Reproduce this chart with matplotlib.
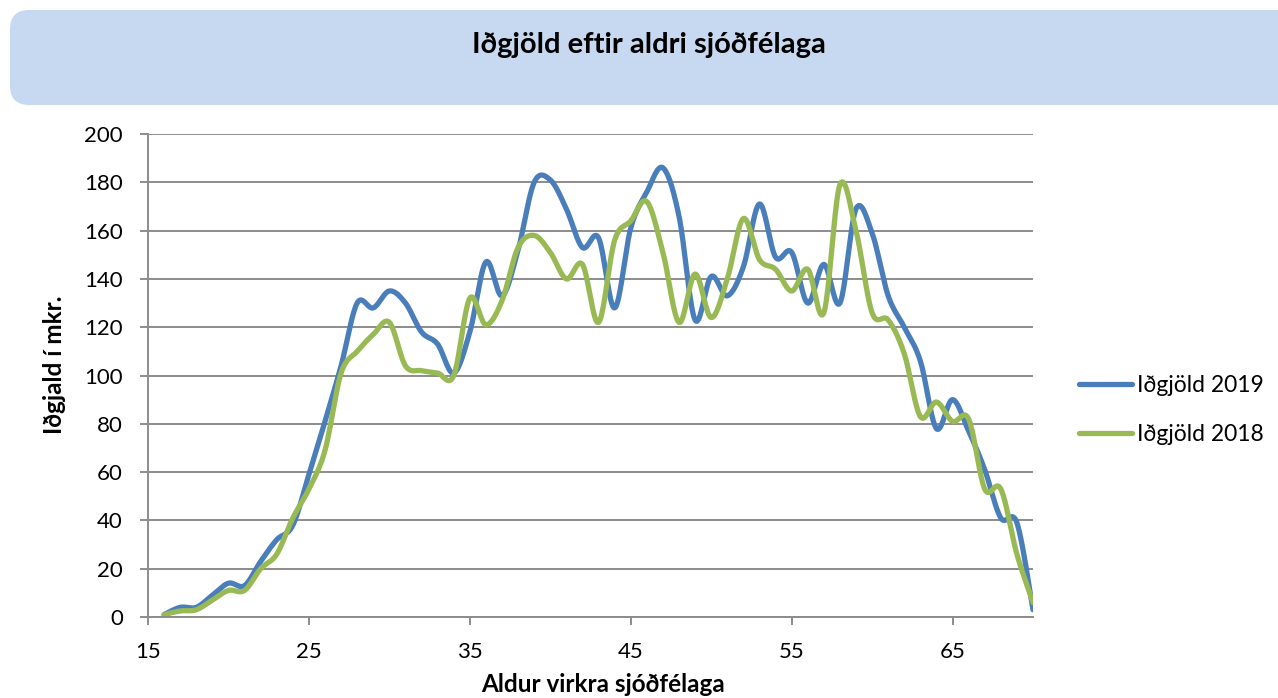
import numpy as np
import matplotlib
matplotlib.use("Agg")
import matplotlib.pyplot as plt
from matplotlib.patches import FancyBboxPatch

ages = list(range(16, 71))
idgjold_2019 = [1, 4, 4, 9, 14, 13, 23, 32, 38, 59, 81, 104, 130, 128, 135, 130, 118, 113, 101,
                118, 147, 133, 152, 180, 181, 169, 153, 157, 128, 161, 176, 186, 166, 123, 141,
                133, 145, 171, 149, 151, 130, 146, 130, 169, 159, 133, 120, 106, 78, 90, 77,
                61, 41, 39, 3]
idgjold_2018 = [1, 2.5, 3, 7, 11, 11, 20, 26, 41, 53, 69, 101, 110, 117, 122, 104, 102, 101, 100,
                132, 121, 131, 153, 158, 151, 140, 146, 122, 156, 164, 172, 151, 122, 142, 124,
                140, 165, 148, 144, 135, 144, 126, 179, 160, 126, 123, 109, 83, 89, 81, 82,
                53, 53, 26, 6]
series_names = ["Iðgjöld 2019", "Iðgjöld 2018"]
title = "Iðgjöld eftir aldri sjóðfélaga"
xlabel = "Aldur virkra sjóðfélaga"
ylabel = "Iðgjald í mkr."
xticks = [15, 25, 35, 45, 55, 65]
yticks = list(range(0, 201, 20))


def smooth(x, y, n=20):
    # Catmull-Rom spline through the points (Excel-style smoothed line)
    x = np.asarray(x, float)
    y = np.asarray(y, float)
    P = np.column_stack([x, y])
    P = np.vstack([P[0], P, P[-1]])
    out = []
    t = np.linspace(0, 1, n, endpoint=False)[:, None]
    for i in range(1, len(P) - 2):
        p0, p1, p2, p3 = P[i - 1], P[i], P[i + 1], P[i + 2]
        seg = 0.5 * ((2 * p1) + (-p0 + p2) * t + (2 * p0 - 5 * p1 + 4 * p2 - p3) * t ** 2
                     + (-p0 + 3 * p1 - 3 * p2 + p3) * t ** 3)
        out.append(seg)
    out.append(P[-2][None, :])
    out = np.vstack(out)
    return out[:, 0], out[:, 1]


font = "Lato"
W, H = 1278, 698
fig = plt.figure(figsize=(W / 100, H / 100), dpi=100)

# title box
box = FancyBboxPatch((10 / W, 1 - 105 / H), 1300 / W, 95 / H,
                     boxstyle="round,pad=0,rounding_size=0.015",
                     transform=fig.transFigure, facecolor="#C6D9F0", edgecolor="none",
                     mutation_aspect=W / H)
fig.patches.append(box)
fig.text(649 / W, 1 - 45 / H, title, ha="center", va="center",
         fontsize=21, fontweight="bold", family=font)

ax = fig.add_axes([148 / W, 1 - 617 / H, (1033 - 148) / W, (617 - 134) / H])
colors = ["#4A7EBB", "#98B954"]
for ys, name, c in zip([idgjold_2019, idgjold_2018], series_names, colors):
    sx, sy = smooth(ages, ys)
    ax.plot(sx, sy, color=c, lw=3.8, label=name, solid_capstyle="round")

ax.set_xlim(15, 70)
ax.set_ylim(0, 200)
ax.set_xticks(xticks)
ax.set_yticks(yticks)
ax.grid(axis="y", color="#8C8C8C", lw=1.4)
ax.set_axisbelow(True)
for s in ["top", "right"]:
    ax.spines[s].set_visible(False)
for s in ["left", "bottom"]:
    ax.spines[s].set_color("#8C8C8C")
    ax.spines[s].set_linewidth(1.4)
ax.tick_params(axis="both", color="#8C8C8C", width=1.4, length=6, labelsize=16)
ax.tick_params(axis="x", pad=12)
ax.tick_params(axis="y", pad=12)
for lab in ax.get_xticklabels() + ax.get_yticklabels():
    lab.set_family(font)

fig.text(603 / W, 1 - 684 / H, xlabel, ha="center", va="center",
         fontsize=17.5, fontweight="bold", family=font)
fig.text(54 / W, 1 - 365 / H, ylabel, ha="center", va="center", rotation=90,
         fontsize=17.5, fontweight="bold", family=font)

leg = ax.legend(loc="center left", bbox_to_anchor=(1068 / W, 1 - 410 / H),
                bbox_transform=fig.transFigure, frameon=False, borderpad=0,
                prop={"family": font, "size": 16.5}, handlelength=2.3, handletextpad=0.2,
                labelspacing=1.25)

fig.savefig("out.png", dpi=100)
